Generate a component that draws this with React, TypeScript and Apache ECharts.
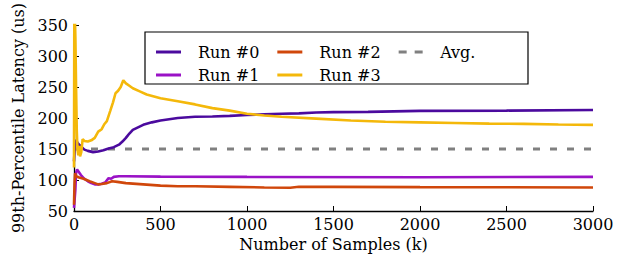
import React, { useEffect, useRef } from "react";
import * as echarts from "echarts";

const run0X = [0, 5, 12, 20, 30, 45, 60, 80, 110, 140, 170, 200, 230, 260, 280, 300, 320, 340, 370, 400, 450, 500, 550, 600, 700, 800, 900, 1000, 1100, 1200, 1300, 1400, 1500, 1700, 2000, 2500, 3000];
const run0Y = [130, 155, 165, 160, 157, 153, 149, 147, 145, 146, 148, 151, 153, 157, 162, 168, 175, 181, 185, 189, 193, 196, 198, 200, 202, 202.5, 203.5, 205, 206, 207, 207.5, 209, 209.5, 210, 211.5, 212, 213];

const run1X = [0, 4, 8, 12, 18, 25, 40, 60, 80, 100, 120, 140, 160, 180, 200, 215, 230, 260, 300, 500, 1000, 2000, 3000];
const run1Y = [55, 70, 85, 112, 117, 114, 108, 102, 98, 95, 93, 93, 94, 96, 103, 102, 105, 106, 106, 105.5, 105, 104.5, 105];

const run2X = [0, 3, 6, 12, 30, 55, 90, 120, 140, 160, 190, 220, 250, 300, 400, 500, 600, 700, 900, 1100, 1250, 1300, 1500, 2000, 3000];
const run2Y = [60, 95, 111, 106, 104, 102, 98, 95, 93, 93.5, 95, 98, 97, 95, 93, 91, 90, 90, 89, 88, 87.5, 89, 89, 88.5, 88];

const run3X = [0, 2, 8, 12, 16, 20, 25, 30, 35, 42, 50, 60, 80, 100, 120, 140, 160, 175, 190, 210, 225, 240, 255, 270, 285, 300, 320, 340, 380, 420, 500, 600, 700, 800, 900, 1000, 1100, 1200, 1400, 1600, 1800, 2000, 2200, 2400, 2600, 2800, 3000];
const run3Y = [120, 400, 330, 250, 180, 150, 140, 155, 138, 145, 166, 163, 162, 164, 168, 178, 182, 190, 195, 212, 225, 240, 244, 250, 261, 256, 252, 248, 243, 238, 232, 227, 222, 216, 212, 207, 204, 202, 199, 196, 194, 193, 192, 191, 190.5, 189.5, 189];

const avgX = [0, 3000];
const avgY = [150, 150];

const seriesNames = ["Run #0", "Run #1", "Run #2", "Run #3", "Avg."];
const seriesColors = ["#4b0a9e", "#9a12c6", "#d0470b", "#f4b80a", "#808080"];
const xTicks = { min: 0, max: 3000, interval: 500 };
const yTicks = { min: 50, max: 350, interval: 50 };

const zip = (xs: number[], ys: number[]) => xs.map((x, i) => [x, ys[i]]);

const FONT = "DejaVu Serif";
const LINE_ICON = "rect";
const DASH_ICON = "path://M0,0h8v3h-8z M16,0h8v3h-8z";

export default function App() {
  const ref = useRef<HTMLDivElement>(null);
  useEffect(() => {
    document.body.style.margin = "0";
    if (!ref.current) return;
    const chart = echarts.init(ref.current, null, { renderer: "svg" });
    const datasets = [zip(run0X, run0Y), zip(run1X, run1Y), zip(run2X, run2Y), zip(run3X, run3Y), zip(avgX, avgY)];
    const txt = () => ({ fontFamily: FONT, fontSize: 16, color: "#000" });
    const item = (n: string) => ({ name: n, icon: n === "Avg." ? DASH_ICON : LINE_ICON });
    const legendBase = () => ({
      itemWidth: 25,
      itemHeight: 3,
      itemGap: 18,
      padding: 0,
      textStyle: { ...txt(), padding: [0, 0, 0, 12], width: 80 },
      z: 5,
    });
    chart.setOption({
      animation: false,
      grid: { left: 74, right: 30, top: 24, bottom: 49 },
      graphic: [
        {
          type: "rect",
          z: 3,
          shape: { x: 145, y: 32, width: 383, height: 52 },
          style: { fill: "#fff", stroke: "#000", lineWidth: 1.2 },
        },
      ],
      legend: [
        { ...legendBase(), data: ["Run #0", "Run #2", "Avg."].map(item), left: 156, top: 44 },
        { ...legendBase(), data: ["Run #1", "Run #3"].map(item), left: 156, top: 67 },
      ],
      xAxis: {
        type: "value",
        ...xTicks,
        name: "Number of Samples (k)",
        nameLocation: "middle",
        nameGap: 25,
        nameTextStyle: txt(),
        axisLine: { lineStyle: { color: "#000", width: 1.3 } },
        axisTick: { inside: true, length: 5, lineStyle: { color: "#000" } },
        axisLabel: { ...txt(), margin: 5, formatter: (v: number) => String(v) },
        splitLine: { show: false },
      },
      yAxis: {
        type: "value",
        ...yTicks,
        name: "99th-Percentile Latency (us)",
        nameLocation: "middle",
        nameGap: 46,
        nameTextStyle: txt(),
        axisLine: { show: true, lineStyle: { color: "#000", width: 1.3 } },
        axisTick: { show: true, inside: true, length: 5, lineStyle: { color: "#000" } },
        axisLabel: { ...txt(), margin: 6, formatter: (v: number) => String(v) },
        splitLine: { show: false },
      },
      series: seriesNames.map((name, i) => ({
        name,
        type: "line",
        data: datasets[i],
        symbol: "none",
        clip: true,
        z: name === "Avg." ? 1 : 2,
        color: seriesColors[i],
        itemStyle: { color: seriesColors[i] },
        lineStyle: {
          color: seriesColors[i],
          width: name === "Avg." ? 3 : 2.6,
          type: name === "Avg." ? [7, 10] : "solid",
        },
      })),
    });
    return () => chart.dispose();
  }, []);
  return <div ref={ref} style={{ width: 623, height: 260 }} />;
}
